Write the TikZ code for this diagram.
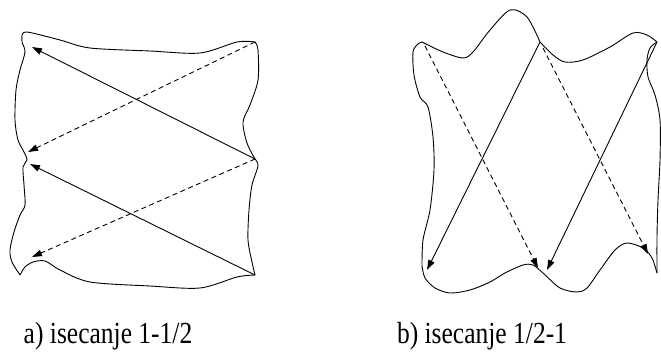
\documentclass[tikz,border=0pt]{standalone}
\usepackage{fontspec}
\setmainfont{Liberation Serif}
\usetikzlibrary{arrows.meta,positioning,calc}

\begin{document}
\begin{tikzpicture}[
            x=1pt, y=-1pt,
            edge/.style={line width=0.9pt, black},
            cut/.style={-{Triangle[length=10pt,width=6.5pt]}, line width=0.9pt, black},
            cutdash/.style={cut, dashed, dash pattern=on 5pt off 3.5pt},
            caption/.style={font=\fontsize{25.5}{30}\selectfont, anchor=base}
        ]
            \useasboundingbox (0,0) rectangle (661,355);

            % Corners - left piece
            \coordinate (lTL) at (22,36);
            \coordinate (lTR) at (255,42);
            \coordinate (lRM) at (255,159);
            \coordinate (lBR) at (255,275);
            \coordinate (lBL) at (20,275);

            % Outline - left piece
            \draw[edge] plot[smooth] coordinates {(lTL) (27,32) (60,40) (90,48) (150,51) (200,53) (237,42) (lTR)};
            \draw[edge] plot[smooth] coordinates {(lTR) (258,50) (258,80) (250,105) (243,122) (247,143) (lRM)};
            \draw[edge] plot[smooth] coordinates {(lRM) (258,166) (252,185) (249,210) (248,240) (252,262) (lBR)};
            \draw[edge] plot[smooth] coordinates {(lBR) (237,277) (200,288) (150,286) (90,282) (60,270) (45,261) (33,262) (25,267) (lBL)};
            \draw[edge] plot[smooth] coordinates {(lBL) (12,262) (10,250) (14,232) (20,215) (25,205) (24,185) (23,167) (27,160) (24,152) (18,140) (15,120) (16,90) (20,70) (25,52) (22,42) (lTL)};

            % Ends - left piece
            \coordinate (la1) at (32,47);
            \coordinate (la2) at (28,152);
            \coordinate (la3) at (30,164);
            \coordinate (la4) at (32,257);

            % Cuts - left piece
            \draw[cut] (lRM) -- (la1);
            \draw[cutdash] (lTR) -- (la2);
            \draw[cut] (lBR) -- (la3);
            \draw[cutdash] (lRM) -- (la4);

            % Corners - right piece
            \coordinate (rTL) at (422,42);
            \coordinate (rTM) at (540,42);
            \coordinate (rTR) at (657,42);
            \coordinate (rBR) at (657,273);
            \coordinate (rBL) at (422,266);

            % Outline - right piece
            \draw[edge] plot[smooth] coordinates {(rTL) (443,52) (463,58) (473,52) (490,30) (510,10) (527,17) (rTM)};
            \draw[edge] plot[smooth] coordinates {(rTM) (553,55) (565,62) (583,60) (610,47) (633,33) (647,35) (rTR)};
            \draw[edge] plot[smooth] coordinates {(rTR) (650,48) (647,60) (648,77) (655,95) (660,120) (660,160) (658,200) (657,237) (rBR)};
            \draw[edge] plot[smooth] coordinates {(rBR) (652,258) (643,248) (627,243) (615,250) (600,270) (587,288) (577,292) (560,288) (543,273) (533,265) (523,265) (505,273) (490,282) (470,290) (450,293) (435,288) (425,278) (rBL)};
            \draw[edge] plot[smooth] coordinates {(rBL) (423,240) (430,210) (434,170) (433,137) (428,107) (420,97) (414,75) (413,52) (418,44) (rTL)};

            % Ends - right piece
            \coordinate (rd1) at (425,46);
            \coordinate (rd2) at (543,48);
            \coordinate (ra1) at (427,270);
            \coordinate (ra2) at (538,268);
            \coordinate (ra3) at (547,270);
            \coordinate (ra4) at (648,254);

            % Cuts - right piece
            \draw[cutdash] (rd1) -- (ra2);
            \draw[cut] (rTM) -- (ra1);
            \draw[cutdash] (rd2) -- (ra4);
            \draw[cut] (rTR) -- (ra3);

            % Captions
            \node[caption] (capa) at (108,343) {\scalebox{1}[1.2]{a) isecanje 1-1/2}};
            \node[caption] (capb) at (482,343) {\scalebox{1}[1.2]{b) isecanje 1/2-1}};
        \end{tikzpicture}
\end{document}
